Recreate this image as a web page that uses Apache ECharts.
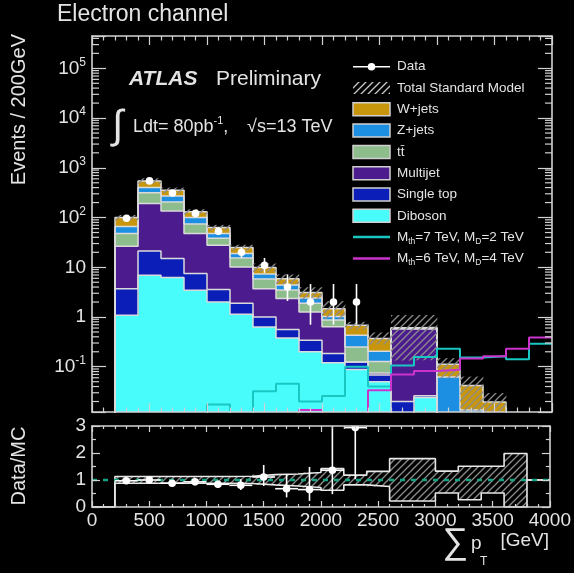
<!DOCTYPE html>
<html>
<head>
<meta charset="utf-8">
<script src="https://cdn.jsdelivr.net/npm/echarts@6/dist/echarts.min.js"></script>
<style>
  html, body { margin: 0; padding: 0; background: #000; }
  #main { width: 574px; height: 573px; }
</style>
</head>
<body>
<div id="main"></div>
<script>
// bin edges in GeV (200 GeV bins)
const binEdges = [0, 200, 400, 600, 800, 1000, 1200, 1400, 1600, 1800, 2000,
                  2200, 2400, 2600, 2800, 3000, 3200, 3400, 3600, 3800, 4000];

// backgrounds, events / bin, stacked bottom -> top
const diboson   = [0, 1.08, 6.9, 6.2, 3.45, 2.0, 1.13, 0.63, 0.38, 0.2, 0.12, 0.088, 0.05, 0, 0.024, 0, 0, 0, 0, 0];
const singleTop = [0, 2.6, 14.4, 8.8, 4.05, 1.56, 0.77, 0.37, 0.18, 0.14, 0.065, 0.036, 0.018, 0.02, 0.002, 0, 0, 0, 0, 0];
const multijet  = [0, 22.8, 170, 121, 40.2, 24.1, 8.2, 2.7, 1.79, 0.92, 0.455, 0, 0.007, 0.56, 0.56, 0, 0, 0, 0, 0];
const ttbar     = [0, 21.5, 124, 69, 26.3, 10.8, 5.2, 2.1, 1.15, 0.64, 0.23, 0.126, 0.053, 0, 0, 0, 0, 0, 0, 0];
const zjets     = [0, 18, 85, 65, 26, 9.5, 3.7, 1.5, 0.9, 0.5, 0.15, 0.18, 0.077, 0.01, 0.01, 0.062, 0.0135, 0, 0, 0];
const wjets     = [0, 34, 145, 84, 30, 15, 5.9, 2.6, 1.5, 0.7, 0.45, 0.25, 0.165, 0.02, 0.02, 0.05, 0.0285, 0.0196, 0.005, 0];

// signal samples
const sigMth7 = [0, 0, 0, 0, 0, 0.0175, 0, 0.032, 0.0457, 0.02, 0.0258, 0.1, 0.04, 0.106, 0.157, 0.231, 0.153, 0.162, 0.141, 0.29];
const sigMth6 = [0, 0, 0, 0, 0, 0, 0, 0, 0, 0.0135, 0, 0, 0.0335, 0.07, 0.082, 0.087, 0.146, 0.162, 0.231, 0.385];

// data counts and asymmetric errors
const dataCounts = [0, 97, 545, 312, 121, 53, 20, 11, 4, 2, 2, 2, 0, 0, 0, 0, 0, 0, 0, 0];
const dataErrDn  = [0, 9.4, 23.3, 17.7, 11, 7.3, 4.4, 3.3, 1.9, 1.3, 1.3, 1.3, 0, 0, 0, 0, 0, 0, 0, 0];
const dataErrUp  = [0, 10.8, 24.4, 18.7, 12, 8.3, 5.5, 4.4, 3.2, 2.6, 2.6, 2.6, 0, 0, 0, 0, 0, 0, 0, 0];

// relative uncertainty band on total SM (ratio units)
const bandHi = [0, 1.13, 1.13, 1.13, 1.13, 1.13, 1.14, 1.2, 1.22, 1.28, 1.42, 1.18, 1.32, 1.79, 1.79, 1.33, 1.51, 1.51, 1.98, 1];
const bandLo = [0, 0.88, 0.88, 0.88, 0.88, 0.88, 0.87, 0.82, 0.78, 0.72, 0.62, 0.82, 0.76, 0.22, 0.22, 0.52, 0.27, 0.52, 0, 1];

const YMIN = Math.pow(10, -1.91), YMAX = Math.pow(10, 5.65);
const FONT = '"Liberation Sans", Arial, Helvetica, sans-serif';
const TXT = '#e4e4e4', AX = '#d2d2d2', OUTLINE = '#dadada';

const layers = [
  { name: 'Diboson', vals: diboson, color: '#48fcfc' },
  { name: 'Single top', vals: singleTop, color: '#0b1fb8' },
  { name: 'Multijet', vals: multijet, color: '#4c1c8e' },
  { name: 'tt̄', vals: ttbar, color: '#8dbd8d' },
  { name: 'Z+jets', vals: zjets, color: '#1c8fe3' },
  { name: 'W+jets', vals: wjets, color: '#c8960d' }
];

// cumulative stack
let running = binEdges.slice(0, -1).map(() => 0);
layers.forEach(l => {
  l.lo = running.slice();
  running = running.map((v, i) => v + l.vals[i]);
  l.hi = running.slice();
});
const totalSM = running;

function makeHatch(color) {
  const c = document.createElement('canvas');
  c.width = c.height = 7;
  const g = c.getContext('2d');
  g.strokeStyle = color;
  g.lineWidth = 1.3;
  g.beginPath();
  g.moveTo(-1, 8); g.lineTo(8, -1);
  g.moveTo(-1, 1); g.lineTo(1, -1);
  g.moveTo(6, 8); g.lineTo(8, 6);
  g.stroke();
  return c;
}
const hatchImg = makeHatch('#8c8c8c');
const hatchFill = { image: hatchImg, repeat: 'repeat' };

function stepData(vals, floor) {
  const pts = vals.map((v, i) => [binEdges[i], v > 0 ? v : floor]);
  pts.push([binEdges[vals.length], pts[pts.length - 1][1]]);
  return pts;
}

function rectRender(fill) {
  return function (params, api) {
    const a = api.coord([api.value(0), api.value(3)]);
    const b = api.coord([api.value(1), api.value(2)]);
    return {
      type: 'rect',
      shape: { x: a[0], y: a[1], width: b[0] - a[0] + 0.4, height: b[1] - a[1] },
      style: { fill: fill }
    };
  };
}

const series = [];

// stacked fills
layers.forEach(l => {
  const items = [];
  l.vals.forEach((v, i) => {
    if (v > 0 && l.hi[i] > YMIN) {
      items.push([binEdges[i], binEdges[i + 1], Math.max(l.lo[i], YMIN), l.hi[i]]);
    }
  });
  series.push({
    type: 'custom', name: l.name, xAxisIndex: 0, yAxisIndex: 0, z: 2, clip: true,
    renderItem: rectRender(l.color), encode: { x: [0, 1], y: [2, 3] }, data: items
  });
});
// outlines of the cumulative tops
layers.forEach(l => {
  series.push({
    type: 'line', step: 'end', xAxisIndex: 0, yAxisIndex: 0, z: 3, symbol: 'none',
    lineStyle: { color: OUTLINE, width: 1.5 }, data: stepData(l.hi, YMIN * 0.3)
  });
});
// MC uncertainty hatch
series.push({
  type: 'custom', xAxisIndex: 0, yAxisIndex: 0, z: 4, clip: true,
  renderItem: rectRender(hatchFill), encode: { x: [0, 1], y: [2, 3] },
  data: totalSM.map((t, i) => t > 0 ? [binEdges[i], binEdges[i + 1], Math.max(t * bandLo[i], YMIN), t * bandHi[i]] : null)
    .filter(d => d && d[3] > YMIN)
});
// signals
series.push({
  type: 'line', step: 'end', xAxisIndex: 0, yAxisIndex: 0, z: 5, symbol: 'none',
  lineStyle: { color: '#18c7c2', width: 2 }, data: stepData(sigMth7, YMIN * 0.3)
});
series.push({
  type: 'line', step: 'end', xAxisIndex: 0, yAxisIndex: 0, z: 5, symbol: 'none',
  lineStyle: { color: '#cc33cc', width: 2 }, data: stepData(sigMth6, YMIN * 0.3)
});

function pointRender(withXErr) {
  return function (params, api) {
    const x = api.value(0);
    const c = api.coord([x, api.value(1)]);
    const lo = api.coord([x, api.value(2)]);
    const hi = api.coord([x, api.value(3)]);
    const kids = [
      { type: 'line', shape: { x1: c[0], y1: lo[1], x2: c[0], y2: hi[1] }, style: { stroke: '#fff', lineWidth: 1.6 } }
    ];
    if (withXErr) {
      const l = api.coord([api.value(4), api.value(1)]);
      const r = api.coord([api.value(5), api.value(1)]);
      kids.push({ type: 'line', shape: { x1: l[0], y1: c[1], x2: r[0], y2: c[1] }, style: { stroke: '#fff', lineWidth: 1.6 } });
    }
    kids.push({ type: 'circle', shape: { cx: c[0], cy: c[1], r: 3.8 }, style: { fill: '#fff' } });
    return { type: 'group', children: kids };
  };
}

// data in main panel
series.push({
  type: 'custom', xAxisIndex: 0, yAxisIndex: 0, z: 6,
  renderItem: pointRender(false), encode: { x: 0, y: 1 },
  data: dataCounts.map((n, i) => n > 0 ? [(binEdges[i] + binEdges[i + 1]) / 2, n, n - dataErrDn[i], n + dataErrUp[i], binEdges[i], binEdges[i + 1]] : null)
    .filter(d => d)
});

// log minor ticks on both sides of the main panel
const minorVals = [];
for (let e = -2; e <= 5; e++) {
  for (let m = 2; m <= 9; m++) {
    const v = m * Math.pow(10, e);
    if (v > YMIN && v < YMAX) minorVals.push([0, v]);
  }
}
series.push({
  type: 'custom', xAxisIndex: 0, yAxisIndex: 0, z: 11, silent: true,
  renderItem: function (params, api) {
    const pl = api.coord([0, api.value(1)]);
    const pr = api.coord([4000, api.value(1)]);
    return {
      type: 'group', children: [
        { type: 'line', shape: { x1: pl[0], y1: pl[1], x2: pl[0] + 7, y2: pl[1] }, style: { stroke: AX, lineWidth: 1.2 } },
        { type: 'line', shape: { x1: pr[0], y1: pr[1], x2: pr[0] - 7, y2: pr[1] }, style: { stroke: AX, lineWidth: 1.2 } }
      ]
    };
  },
  encode: { x: 0, y: 1 }, data: minorVals
});

// ratio panel: band, band edges, unity line, data/MC
series.push({
  type: 'custom', xAxisIndex: 2, yAxisIndex: 2, z: 3, clip: true,
  renderItem: rectRender(hatchFill), encode: { x: [0, 1], y: [2, 3] },
  data: bandHi.map((h, i) => h > bandLo[i] ? [binEdges[i], binEdges[i + 1], bandLo[i], h] : null).filter(d => d)
});
[bandHi, bandLo].forEach(b => {
  series.push({
    type: 'line', step: 'end', xAxisIndex: 2, yAxisIndex: 2, z: 4, symbol: 'none',
    lineStyle: { color: '#e8e8e8', width: 1.6 }, data: stepData(b, 0)
  });
});
series.push({
  type: 'line', xAxisIndex: 2, yAxisIndex: 2, z: 5, symbol: 'none',
  lineStyle: { color: '#14a383', width: 2.5, type: [5, 6] }, data: [[0, 1], [4000, 1]]
});
series.push({
  type: 'custom', xAxisIndex: 2, yAxisIndex: 2, z: 6, clip: true,
  renderItem: pointRender(true), encode: { x: 0, y: 1 },
  data: dataCounts.map((n, i) => n > 0 ? [(binEdges[i] + binEdges[i + 1]) / 2, n / totalSM[i],
    (n - dataErrDn[i]) / totalSM[i], Math.min((n + dataErrUp[i]) / totalSM[i], 3.2), binEdges[i], binEdges[i + 1]] : null)
    .filter(d => d)
});

function xAxis(grid, pos, labels, major, minor) {
  return {
    type: 'value', gridIndex: grid, position: pos, min: 0, max: 4000, interval: 500, z: 10,
    axisLine: { show: true, onZero: false, lineStyle: { color: AX, width: 1.6 } },
    axisTick: { show: true, inside: true, length: major, lineStyle: { color: AX, width: 1.2 } },
    minorTick: { show: true, splitNumber: 5, length: minor, lineStyle: { color: AX, width: 1.2 } },
    splitLine: { show: false }, minorSplitLine: { show: false },
    axisLabel: { show: labels, color: TXT, fontSize: 19, fontFamily: FONT, margin: 4, formatter: v => String(v) }
  };
}

function logLabel(v) {
  const e = Math.log10(v), k = Math.round(e);
  if (Math.abs(e - k) > 1e-6) return '';
  if (k === 0) return '1';
  if (k === 1) return '10';
  return '10{s|' + k + '}';
}

function logAxis(pos, labels) {
  return {
    type: 'log', logBase: 10, gridIndex: 0, position: pos, min: YMIN, max: YMAX, z: 10,
    axisLine: { show: true, onZero: false, lineStyle: { color: AX, width: 1.6 } },
    axisTick: { show: true, inside: true, length: 14, lineStyle: { color: AX, width: 1.2 } },
    minorTick: { show: false }, splitLine: { show: false },
    axisLabel: {
      show: labels, color: TXT, fontSize: 19, fontFamily: FONT, margin: 6, formatter: logLabel,
      rich: {
        s: { fontSize: 12, fontFamily: FONT, color: TXT, verticalAlign: 'top', lineHeight: 24 }
      },
      lineHeight: 24
    }
  };
}

function ratioAxis(pos, labels) {
  return {
    type: 'value', gridIndex: 1, position: pos, min: 0, max: 3, interval: 1, z: 10,
    axisLine: { show: true, onZero: false, lineStyle: { color: AX, width: 1.6 } },
    axisTick: { show: true, inside: true, length: 8, lineStyle: { color: AX, width: 1.2 } },
    minorTick: { show: true, splitNumber: 2, length: 4, lineStyle: { color: AX, width: 1.2 } },
    splitLine: { show: false }, minorSplitLine: { show: false },
    axisLabel: { show: labels, color: TXT, fontSize: 19, fontFamily: FONT, margin: 6 }
  };
}

// legend drawn as graphic elements
const legendRows = [
  { kind: 'data', text: 'Data' },
  { kind: 'hatch', text: 'Total Standard Model' },
  { kind: 'box', text: 'W+jets', color: '#c8960d' },
  { kind: 'box', text: 'Z+jets', color: '#1c8fe3' },
  { kind: 'box', text: 'tt̄', color: '#8dbd8d' },
  { kind: 'box', text: 'Multijet', color: '#4c1c8e' },
  { kind: 'box', text: 'Single top', color: '#0b1fb8' },
  { kind: 'box', text: 'Diboson', color: '#48fcfc' },
  { kind: 'line', text: 'M{sub|th}=7 TeV, M{sub|D}=2 TeV', color: '#18c7c2' },
  { kind: 'line', text: 'M{sub|th}=6 TeV, M{sub|D}=4 TeV', color: '#cc33cc' }
];
const graphics = [];
const LX = 353, LW = 37;
legendRows.forEach((r, i) => {
  const y = 66.7 + i * 21.3;
  if (r.kind === 'data') {
    graphics.push({ type: 'line', shape: { x1: LX, y1: y, x2: LX + LW, y2: y }, style: { stroke: '#fff', lineWidth: 1.6 } });
    graphics.push({ type: 'circle', shape: { cx: LX + LW / 2, cy: y, r: 3.8 }, style: { fill: '#fff' } });
  } else if (r.kind === 'hatch') {
    graphics.push({ type: 'rect', shape: { x: LX, y: y - 6, width: LW, height: 12 }, style: { fill: { image: makeHatch('#c8c8c8'), repeat: 'repeat' } } });
  } else if (r.kind === 'box') {
    graphics.push({ type: 'rect', shape: { x: LX, y: y - 6.5, width: LW, height: 13 }, style: { fill: r.color, stroke: '#d0d0d0', lineWidth: 1.5 } });
  } else {
    graphics.push({ type: 'line', shape: { x1: LX, y1: y, x2: LX + LW, y2: y }, style: { stroke: r.color, lineWidth: 2.5 } });
  }
  graphics.push({
    type: 'text', x: 397, y: y,
    style: {
      text: r.text, fill: TXT, fontSize: 13.5, fontFamily: FONT, verticalAlign: 'middle', lineHeight: 18,
      rich: { sub: { fontSize: 8.5, fontFamily: FONT, fill: TXT, verticalAlign: 'bottom', lineHeight: 18 } }
    }
  });
});

graphics.push(
  { type: 'text', x: 57, y: 15, style: { text: 'Electron channel', fill: TXT, fontSize: 23, fontFamily: FONT, verticalAlign: 'middle' } },
  { type: 'text', x: 129, y: 79, style: { text: 'ATLAS', fill: TXT, fontSize: 21, fontStyle: 'italic', fontWeight: 'bold', fontFamily: FONT, verticalAlign: 'middle' } },
  { type: 'text', x: 216, y: 79, style: { text: 'Preliminary', fill: TXT, fontSize: 21, fontFamily: FONT, verticalAlign: 'middle' } },
  { type: 'text', x: 112, y: 127, style: { text: '∫', fill: TXT, fontSize: 40, fontFamily: FONT, verticalAlign: 'middle' } },
  {
    type: 'text', x: 133, y: 127,
    style: {
      text: 'Ldt= 80pb{sup|-1},', fill: TXT, fontSize: 18, fontFamily: FONT, verticalAlign: 'middle', lineHeight: 24,
      rich: { sup: { fontSize: 11, fontFamily: FONT, fill: TXT, verticalAlign: 'top', lineHeight: 24 } }
    }
  },
  { type: 'text', x: 247, y: 127, style: { text: '√s=13 TeV', fill: TXT, fontSize: 18, fontFamily: FONT, verticalAlign: 'middle' } },
  { type: 'text', x: 19, y: 34, rotation: Math.PI / 2, style: { text: 'Events / 200GeV', fill: TXT, fontSize: 20, fontFamily: FONT, align: 'right', verticalAlign: 'middle' } },
  { type: 'text', x: 19, y: 466, rotation: Math.PI / 2, style: { text: 'Data/MC', fill: TXT, fontSize: 20, fontFamily: FONT, align: 'center', verticalAlign: 'middle' } },
  { type: 'text', x: 455, y: 543, style: { text: '∑', fill: TXT, fontSize: 36, fontFamily: FONT, align: 'center', verticalAlign: 'middle' } },
  { type: 'text', x: 471, y: 544, style: { text: 'p', fill: TXT, fontSize: 19, fontFamily: FONT, verticalAlign: 'middle' } },
  { type: 'text', x: 480, y: 562, style: { text: 'T', fill: TXT, fontSize: 12, fontFamily: FONT, verticalAlign: 'middle' } },
  { type: 'text', x: 549, y: 541, style: { text: '[GeV]', fill: TXT, fontSize: 19, fontFamily: FONT, align: 'right', verticalAlign: 'middle' } }
);

const chart = echarts.init(document.getElementById('main'), null, { renderer: 'canvas' });
chart.setOption({
  backgroundColor: '#000',
  animation: false,
  grid: [
    { left: 92, right: 22, top: 36, height: 376 },
    { left: 92, right: 22, top: 426, height: 81 }
  ],
  xAxis: [
    xAxis(0, 'bottom', false, 9, 4.5),
    xAxis(0, 'top', false, 9, 4.5),
    xAxis(1, 'bottom', true, 6, 3),
    xAxis(1, 'top', false, 6, 3)
  ],
  yAxis: [
    logAxis('left', true),
    logAxis('right', false),
    ratioAxis('left', true),
    ratioAxis('right', false)
  ],
  series: series,
  graphic: { elements: graphics }
});
</script>
</body>
</html>
